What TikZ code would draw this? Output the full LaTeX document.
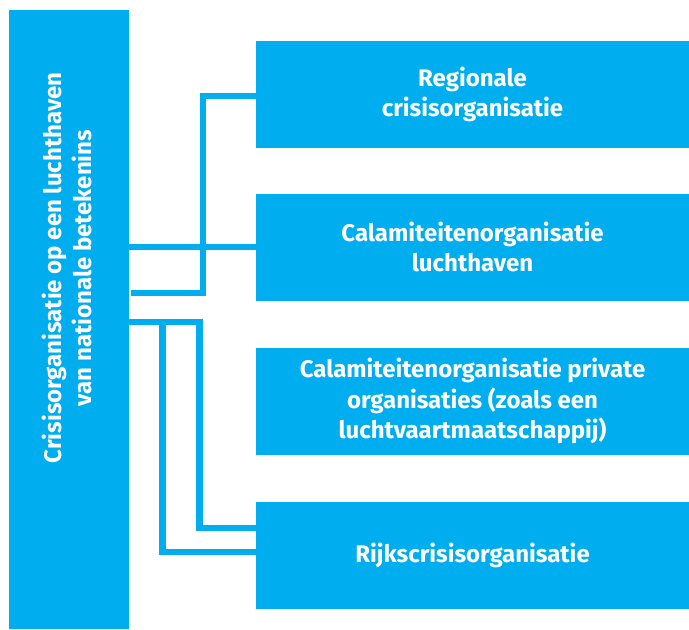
\documentclass[tikz,border=0pt]{standalone}
\usepackage{fontspec}
\setmainfont{Fira Sans}
\definecolor{rblue}{RGB}{0,174,239}
\begin{document}
\begin{tikzpicture}[x=1pt,y=-1pt,
  box/.style={rectangle, fill=rblue, inner sep=0pt, minimum width=433pt, minimum height=107pt,
    text=white, align=center, font=\fontsize{24}{30.5}\selectfont\bfseries},
  conn/.style={draw=rblue, line width=6.3pt, line join=miter}]
\useasboundingbox (0,0) rectangle (689,630);
\node[rectangle, fill=rblue, inner sep=0pt, minimum width=120pt, minimum height=619pt] (L) at (69,319.5) {};
\node[rotate=90, text=white, align=center, font=\fontsize{24}{30.5}\selectfont\bfseries] (Lt) at (67,268)
  {Crisisorganisatie op een luchthaven\\van nationale betekenins};
\node[box] (b1) at (472.5,94.5) {Regionale\\crisisorganisatie};
\node[box] (b2) at (472.5,247) {Calamiteitenorganisatie\\luchthaven};
\node[box] (b3) at (472.5,401) {Calamiteitenorganisatie private\\organisaties (zoals een\\luchtvaartmaatschappij)};
\node[box] (b4) at (472.5,555) {Rijkscrisisorganisatie};
\coordinate (s1) at (131,293);
\coordinate (k1) at (203,293);
\coordinate (k2) at (203,96);
\draw[conn] (s1) -- (k1) -- (k2) -- (b1.west |- k2);
\draw[conn] (b2.west -| L.east) -- (b2.west);
\coordinate (j0) at (129,322);
\coordinate (j1) at (199.5,322);
\coordinate (j2) at (162.5,322);
\coordinate (t1) at (256,528);
\coordinate (t2) at (256,552);
\draw[conn] (L.east |- j0) -- (j1) -- (j1 |- t1) -- (b4.west |- t1);
\draw[conn] (j2) -- (j2 |- t2) -- (b4.west |- t2);
\end{tikzpicture}
\end{document}
